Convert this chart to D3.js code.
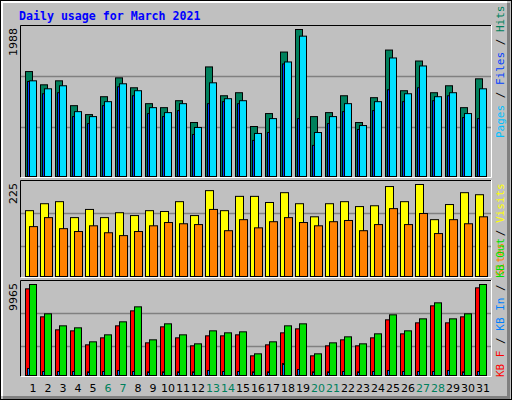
<!DOCTYPE html>
<html>
<head>
<meta charset="utf-8">
<script src="https://cdn.jsdelivr.net/npm/d3@7"></script>
<style>
body { margin: 0; background: #fff; }
text { font-family: "DejaVu Sans", sans-serif; }
</style>
</head>
<body>
<script>
// daily values
const days = d3.range(1, 32)
const weekends = [6, 7, 13, 14, 20, 21, 27, 28]
const hits = [1419, 1240, 1294, 958, 837, 1079, 1334, 1200, 985, 931, 1025, 730, 1482, 1092, 1133, 676, 851, 1683, 1988, 810, 864, 1092, 730, 1066, 1710, 1160, 1562, 1133, 1227, 931, 1321]
const files = [1294, 1186, 1227, 877, 810, 1012, 1254, 1160, 931, 864, 985, 663, 1267, 1052, 1025, 582, 783, 1549, 1898, 595, 810, 985, 689, 1012, 1603, 1119, 1495, 1079, 1133, 851, 1186]
const pages = [1285, 1119, 1133, 810, 716, 958, 1213, 1092, 851, 810, 891, 569, 985, 1012, 985, 488, 595, 1522, 783, 421, 716, 877, 636, 891, 1173, 1012, 1200, 1025, 1092, 797, 783]
const visits = [161, 178, 183, 144, 164, 144, 156, 149, 161, 159, 183, 149, 210, 161, 196, 196, 181, 205, 178, 146, 178, 183, 171, 173, 220, 183, 225, 139, 176, 205, 200]
const sites = [122, 144, 117, 110, 124, 107, 100, 110, 124, 132, 129, 127, 164, 112, 139, 119, 134, 144, 132, 124, 134, 137, 112, 127, 166, 127, 154, 105, 139, 129, 146]
const kbF = [9490, 6424, 5001, 4891, 3358, 4125, 5439, 7081, 3577, 5329, 4125, 3249, 4344, 4344, 4453, 2154, 3358, 4672, 5110, 2154, 3249, 3906, 3249, 4125, 6096, 4563, 5767, 7629, 5767, 6424, 9600]
const kbIn = [770, 440, 440, 440, 400, 440, 550, 440, 400, 400, 400, 400, 550, 440, 440, 400, 400, 1310, 660, 400, 400, 440, 400, 440, 550, 440, 440, 440, 550, 400, 440]
const kbOut = [9965, 6753, 5439, 5220, 3687, 4453, 5877, 7519, 3906, 5658, 4453, 3468, 4891, 4672, 4782, 2373, 3687, 5439, 5658, 2373, 3577, 4234, 3468, 4563, 6643, 4891, 6205, 7957, 6205, 6753, 9965]

const W = 512, H = 400
const svg = d3.select("body").append("svg").attr("width", W).attr("height", H)

// outer bevelled frame
svg.append("rect").attr("width", W).attr("height", H).attr("fill", "#c0c0c0")
svg.append("rect").attr("x", 0.5).attr("y", 0.5).attr("width", W - 1).attr("height", H - 1)
	.attr("fill", "none").attr("stroke", "#000")
svg.append("path").attr("d", "M2,396 V2 H507").attr("fill", "none").attr("stroke", "#fff").attr("stroke-width", 2)
svg.append("path").attr("d", "M3,397.5 H508.5 V3").attr("fill", "none").attr("stroke", "#808080").attr("stroke-width", 3)

svg.append("text").attr("x", 19).attr("y", 20).text("Daily usage for March 2021")
	.attr("fill", "#0000ff").style("font-family", "'DejaVu Sans Mono', monospace")
	.style("font-weight", "bold").style("font-size", "11.6px")

const x = d3.scaleBand().domain(days).range([22, 22 + 31 * 15])

function panel(top, bottom, maxTop, max, label, grid, series, legend) {
	// inset frame
	svg.append("rect").attr("x", 20).attr("y", top).attr("width", 471).attr("height", bottom - top)
		.attr("fill", "#c0c0c0")
	svg.append("path").attr("d", `M20.5,${bottom} V${top + 0.5} H491`).attr("fill", "none").attr("stroke", "#000")
	svg.append("path").attr("d", `M21,${bottom + 0.5} H491.5 V${top}`).attr("fill", "none").attr("stroke", "#fff")

	const y = d3.scaleLinear().domain([0, max]).range([bottom - 1, maxTop])
	grid.forEach(g => {
		svg.append("line").attr("x1", 21).attr("x2", 491).attr("y1", g + 0.5).attr("y2", g + 0.5)
			.attr("stroke", "#808080").attr("stroke-width", 1.5)
	})

	series.forEach(s => {
		svg.append("g").selectAll("rect").data(s.values).enter().append("rect")
			.attr("x", (d, i) => x(days[i]) + s.dx + 0.5)
			.attr("width", s.w)
			.attr("y", d => y(d) + 0.5)
			.attr("height", d => y(0) - y(d))
			.attr("fill", s.color).attr("stroke", "#000")
	})

	svg.append("text").attr("transform", `translate(17,${top + 3}) rotate(-90)`)
		.attr("text-anchor", "end").style("font-size", "11px").text(label)

	const t = svg.append("text").attr("transform", `translate(504,${legend.y}) rotate(-90)`)
		.style("font-family", "'DejaVu Sans Mono', monospace").style("font-size", "11px")
	legend.parts.forEach(p => t.append("tspan").attr("fill", p[1]).text(p[0]))
}

panel(25, 177, 29, 1988, "1988", [76, 127], [
	{ values: hits, color: "#00805c", dx: 3, w: 7 },
	{ values: pages, color: "#0040ff", dx: 5, w: 3 },
	{ values: files, color: "#00e0ff", dx: 7, w: 7 }
], { y: 138, parts: [["Pages", "#00c0ff"], [" / ", "#000"], ["Files", "#0040ff"], [" / ", "#000"], ["Hits", "#00805c"]] })

panel(180, 277, 184, 225, "225", [213, 246], [
	{ values: visits, color: "#ffff00", dx: 3, w: 8 },
	{ values: sites, color: "#ff8000", dx: 7, w: 8 }
], { y: 276, parts: [["Sites", "#ff8000"], [" / ", "#000"], ["Visits", "#ffff00"]] })

panel(280, 376, 284, 9965, "9965", [313, 346], [
	{ values: kbF, color: "#ff0000", dx: 3, w: 7 },
	{ values: kbIn, color: "#0080ff", dx: 5, w: 2 },
	{ values: kbOut, color: "#00e000", dx: 7, w: 7 }
], { y: 377, parts: [["KB F", "#ff0000"], [" / ", "#000"], ["KB In", "#0080ff"], [" / ", "#000"], ["KB Out", "#00e000"]] })

// day labels
svg.append("g").selectAll("text").data(days).enter().append("text")
	.attr("x", d => x(d) + 11).attr("y", 392).attr("text-anchor", "middle")
	.style("font-size", "11px")
	.attr("fill", d => weekends.includes(d) ? "#00805c" : "#000")
	.text(d => d)
</script>
</body>
</html>
